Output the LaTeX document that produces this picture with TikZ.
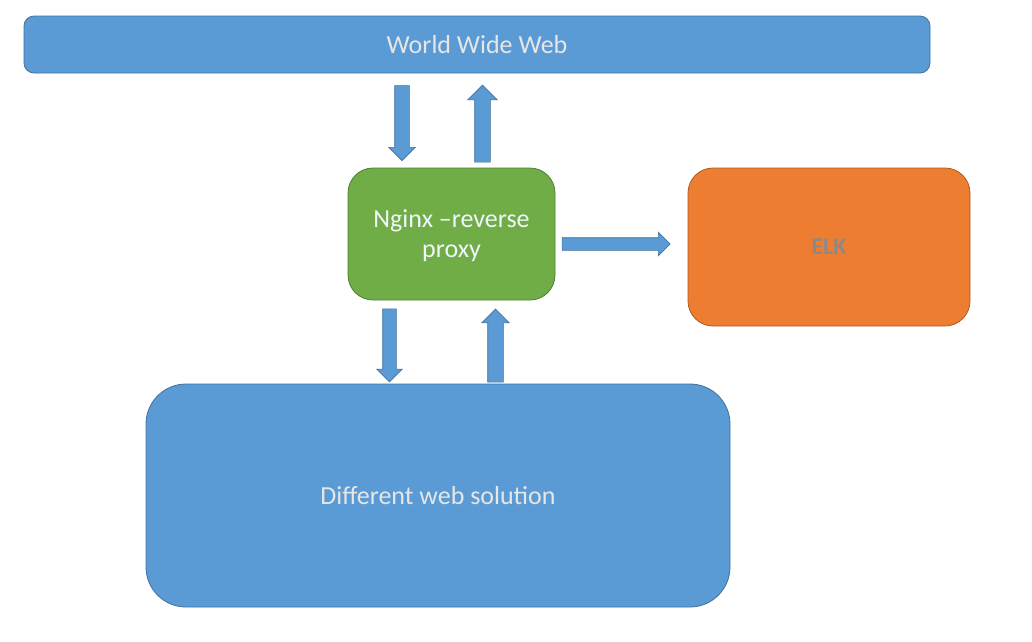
\documentclass[tikz,border=0pt]{standalone}
\usepackage{fontspec}
\setmainfont{Carlito}
\usetikzlibrary{shapes.arrows}
\definecolor{boxblue}{HTML}{5B9BD5}
\definecolor{blueline}{HTML}{41719C}
\definecolor{boxgreen}{HTML}{70AD47}
\definecolor{greenline}{HTML}{507E32}
\definecolor{boxorange}{HTML}{ED7D31}
\definecolor{orangeline}{HTML}{AE5A21}
\definecolor{lighttext}{HTML}{E7E6E6}
\definecolor{nginxtext}{HTML}{F0F6FC}
\definecolor{elktext}{HTML}{8A8A8A}
\tikzset{
  box/.style={rectangle, draw, line width=0.8pt, inner sep=0pt, font=\fontsize{26}{30}\selectfont},
  bluebox/.style={box, fill=boxblue, draw=blueline, text=lighttext},
  greenbox/.style={box, fill=boxgreen, draw=greenline, text=nginxtext, align=center},
  orangebox/.style={box, fill=boxorange, draw=orangeline, text=elktext},
  blockarrow/.style={single arrow, draw=blueline, fill=boxblue, line width=0.6pt,
    inner sep=0pt, minimum width=0pt, single arrow tip angle=90},
}
\begin{document}
\begin{tikzpicture}[x=1pt,y=-1pt]
\useasboundingbox (0,0) rectangle (1032,641);
\node[bluebox, rounded corners=10pt, minimum width=906pt, minimum height=57pt] (www) at (477,44.5) {World Wide Web};
\node[greenbox, rounded corners=25pt, minimum width=207pt, minimum height=132pt, text height=52pt] (nginx) at (451.5,234) {Nginx –reverse\\proxy};
\node[orangebox, rounded corners=25pt, minimum width=282pt, minimum height=158pt, font=\fontsize{24}{28}\selectfont\bfseries] (elk) at (829,247) {ELK};
\node[bluebox, rounded corners=40pt, minimum width=584pt, minimum height=223pt] (web) at (438,495.5) {Different web solution};
% block arrows
\node[blockarrow, rotate=-90, minimum height=75pt, inner ysep=7pt, single arrow head extend=6pt] (a1) at (402,119.5) {};
\node[blockarrow, rotate=90, minimum height=77pt, inner ysep=7.5pt, single arrow head extend=7pt] (a2) at (482.5,127.5) {};
\node[blockarrow, minimum height=108pt, inner ysep=6pt, single arrow head extend=5.5pt] (a3) at (613,244) {};
\node[blockarrow, rotate=-90, minimum height=73pt, inner ysep=6.5pt, single arrow head extend=6pt] (a4) at (389.5,342) {};
\node[blockarrow, rotate=90, minimum height=73pt, inner ysep=7.5pt, single arrow head extend=6pt] (a5) at (495.5,349.5) {};
\end{tikzpicture}
\end{document}
